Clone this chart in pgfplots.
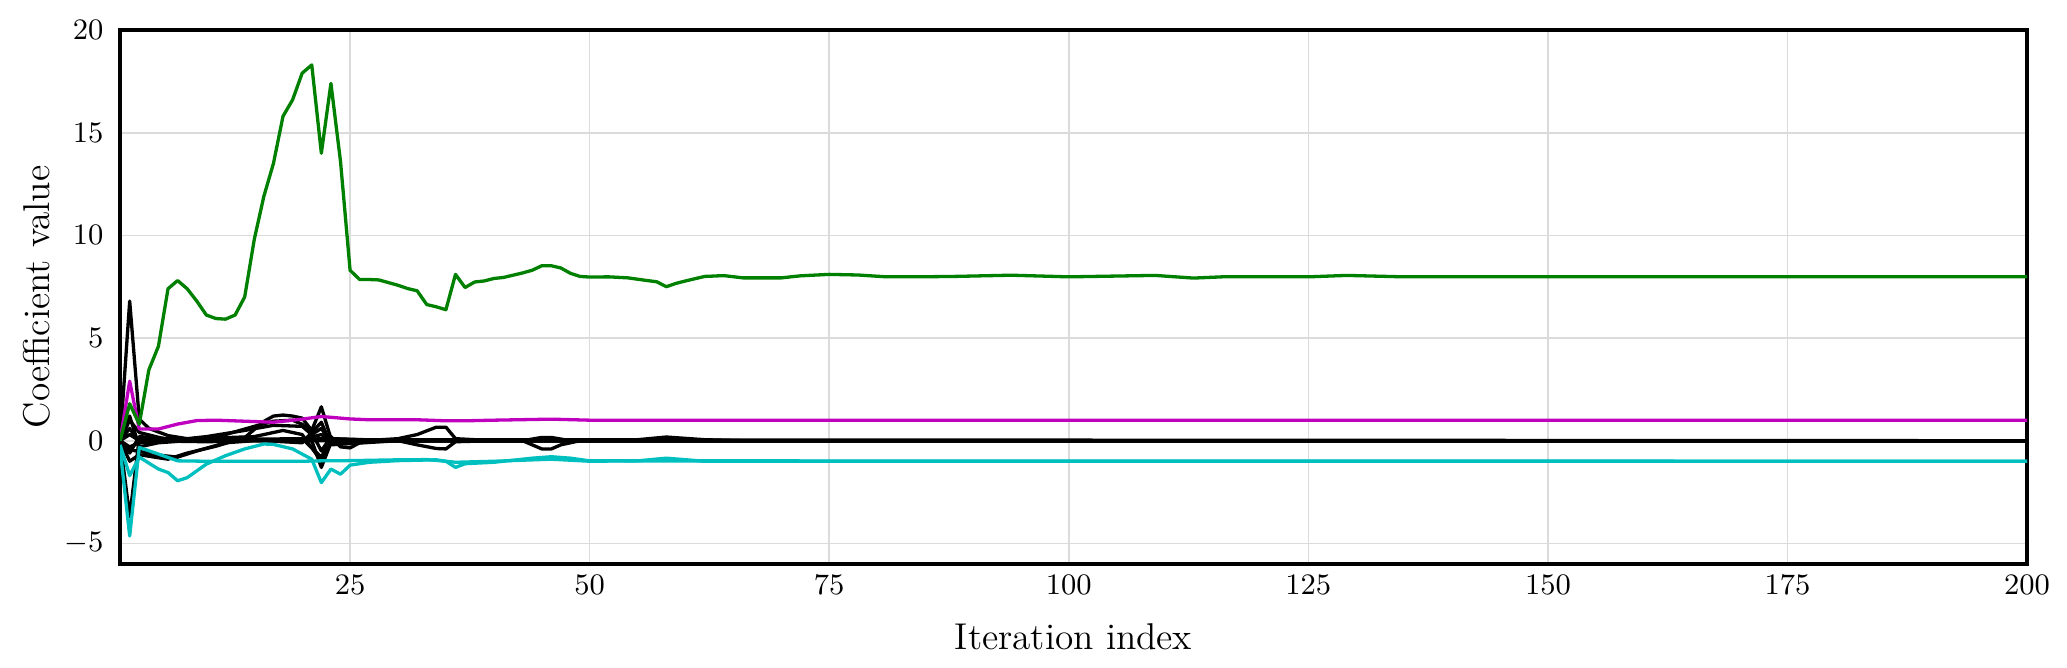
\documentclass[border=0pt]{standalone}
\usepackage{pgfplots}
\pgfplotsset{compat=1.18}
\definecolor{mplg}{rgb}{0,0.5,0}
\definecolor{mplm}{rgb}{0.75,0,0.75}
\definecolor{mplc}{rgb}{0,0.75,0.75}
\definecolor{gridc}{rgb}{0.86,0.86,0.86}
\begin{document}
\begin{tikzpicture}
\begin{axis}[
  name=ax,
  scale only axis,
  width=577.9pt, height=161.8pt,
  xmin=1, xmax=200, ymin=-6, ymax=20,
  xtick={25,50,75,100,125,150,175,200},
  ytick={-5,0,5,10,15,20},
  grid=major,
  major grid style={line width=0.5pt, draw=gridc},
  major tick length=0pt,
  axis line style={line width=1.4pt, black},
  tick label style={font=\fontsize{8.7}{10}\selectfont},
  yticklabel style={xshift=-1.5pt},
  xlabel={Iteration index},
  ylabel={Coefficient value},
  xlabel style={font=\fontsize{11.3}{13}\selectfont, at={(axis description cs:0.5,-0.136)}, anchor=center},
  ylabel style={font=\fontsize{11.3}{13}\selectfont, at={(axis description cs:-0.0436,0.5)}, anchor=center},
  every axis plot/.append style={line width=1.0pt, line join=round},
  clip=true,
]
% black coefficients
\addplot[black] coordinates {(1,0) (2,6.8) (3,1.06) (4,0.6) (6,0.25) (8,0.1) (12,0.05) (20,0.05) (22,0.1) (30,0) (200,0)};
\addplot[black] coordinates {(1,0) (2,-3.7) (3,0.15) (5,0.05) (10,0) (21,0) (22,-1.3) (23,-0.1) (25,0) (200,0)};
\addplot[black] coordinates {(1,0) (2,-1.0) (3,-0.68) (5,-0.83) (6,-0.9) (8,-0.6) (11,-0.27) (14,0.15) (16,0.94) (17,1.2) (18,1.25) (19,1.2) (20,1.1) (21,0.5) (22,1.65) (23,0.1) (25,0.05) (30,0) (200,0)};
\addplot[black] coordinates {(1,0) (2,1.2) (3,-0.3) (5,-0.1) (8,0.0) (12,0.3) (15,0.7) (17,0.95) (19,1.0) (20,0.8) (21,0.4) (22,-0.5) (23,0.2) (24,-0.3) (25,-0.35) (26,-0.1) (28,0.0) (200,0)};
\addplot[black] coordinates {(1,0) (2,0.6) (3,-0.1) (6,0.0) (10,0.2) (14,0.5) (17,0.75) (20,0.7) (21,0.3) (22,0.6) (23,-0.1) (30,0.1) (32,0.3) (34,0.66) (35,0.66) (36,0.1) (40,0.0) (200,0)};
\addplot[black] coordinates {(1,0) (2,-0.6) (3,0.2) (6,0.1) (10,0.05) (20,0.1) (22,-0.8) (23,0.1) (30,0.0) (32,-0.2) (34,-0.38) (35,-0.4) (36,-0.05) (40,0) (43,0) (44,-0.2) (45,-0.4) (46,-0.4) (47,-0.2) (49,0) (200,0)};
\addplot[black] coordinates {(1,0) (2,0.3) (3,0.0) (10,-0.05) (20,0.05) (22,0.3) (23,0) (43,0.0) (45,0.16) (46,0.16) (48,0) (55,0.05) (58,0.18) (62,0.05) (66,0) (200,0)};
\addplot[black] coordinates {(1,0) (2,-0.3) (3,-0.1) (6,0.1) (12,0.1) (20,-0.1) (22,0.9) (23,-0.2) (30,0) (200,0)};
\addplot[black] coordinates {(1,0) (2,1.0) (3,0.4) (6,0.05) (15,0.2) (18,0.5) (20,0.3) (22,-1.0) (23,0.05) (200,0)};
\addplot[black] coordinates {(1,0) (2,-0.45) (3,-0.52) (5,-0.7) (7,-0.8) (9,-0.5) (12,-0.1) (15,0.0) (200,0)};
% magenta
\addplot[mplm] coordinates {(1,0) (2,2.9) (3,0.57) (5,0.57) (7,0.81) (9,0.98) (11,1.0) (14,0.95) (17,0.9) (20,1.05) (22,1.18) (25,1.06) (27,1.02) (32,1.02) (35,0.97) (37,0.97) (40,1.0) (46,1.05) (50,1.0) (200,1.0)};
% cyan
\addplot[mplc] coordinates {(1,-0.4) (2,-4.64) (3,-0.33) (5,-0.65) (7,-0.98) (10,-1.0) (20,-1.0) (22,-0.98) (25,-0.97) (30,-0.93) (33,-0.92) (35,-1.0) (36,-1.05) (40,-1.0) (46,-0.9) (50,-1.0) (55,-0.98) (58,-0.85) (62,-1.0) (200,-1.0)};
\addplot[mplc] coordinates {(1,-0.2) (2,-1.7) (3,-0.8) (5,-1.38) (6,-1.55) (7,-1.95) (8,-1.8) (10,-1.14) (12,-0.73) (14,-0.4) (16,-0.16) (17,-0.18) (19,-0.4) (21,-0.9) (22,-2.04) (23,-1.38) (24,-1.63) (25,-1.19) (27,-1.05) (30,-0.97) (34,-0.93) (35,-1.0) (36,-1.3) (37,-1.12) (40,-1.05) (44,-0.85) (46,-0.78) (48,-0.85) (50,-0.98) (200,-1.0)};
% green
\addplot[mplg] coordinates {(1,0) (2,1.8) (3,0.8) (4,3.45) (5,4.6) (6,7.4) (7,7.8) (8,7.4) (9,6.8) (10,6.12) (11,5.95) (12,5.92) (13,6.12) (14,7.0) (15,9.8) (16,11.9) (17,13.5) (18,15.8) (19,16.6) (20,17.9) (21,18.3) (22,14.0) (23,17.4) (24,13.6) (25,8.3) (26,7.85) (27,7.85) (28,7.83) (29,7.7) (30,7.57) (31,7.41) (32,7.3) (33,6.63) (34,6.52) (35,6.38) (36,8.1) (37,7.46) (38,7.73) (39,7.78) (40,7.9) (41,7.95) (42,8.06) (43,8.17) (44,8.3) (45,8.52) (46,8.52) (47,8.41) (48,8.15) (49,8.0) (50,7.97) (52,7.98) (54,7.93) (56,7.8) (57,7.74) (58,7.5) (59,7.66) (60,7.78) (62,8.0) (64,8.04) (66,7.93) (70,7.93) (72,8.03) (75,8.1) (78,8.07) (81,7.98) (84,7.98) (88,8.0) (94,8.06) (100,7.98) (109,8.05) (113,7.92) (116,7.98) (125,7.98) (129,8.05) (135,7.98) (200,7.98)};
% zero line on top
\addplot[black] coordinates {(30,0) (200,0)};
\end{axis}
\pgfresetboundingbox
\path[use as bounding box] ([xshift=-36.4pt,yshift=-31.5pt]ax.south west) rectangle ([xshift=12.1pt,yshift=9.1pt]ax.north east);
\end{tikzpicture}
\end{document}
